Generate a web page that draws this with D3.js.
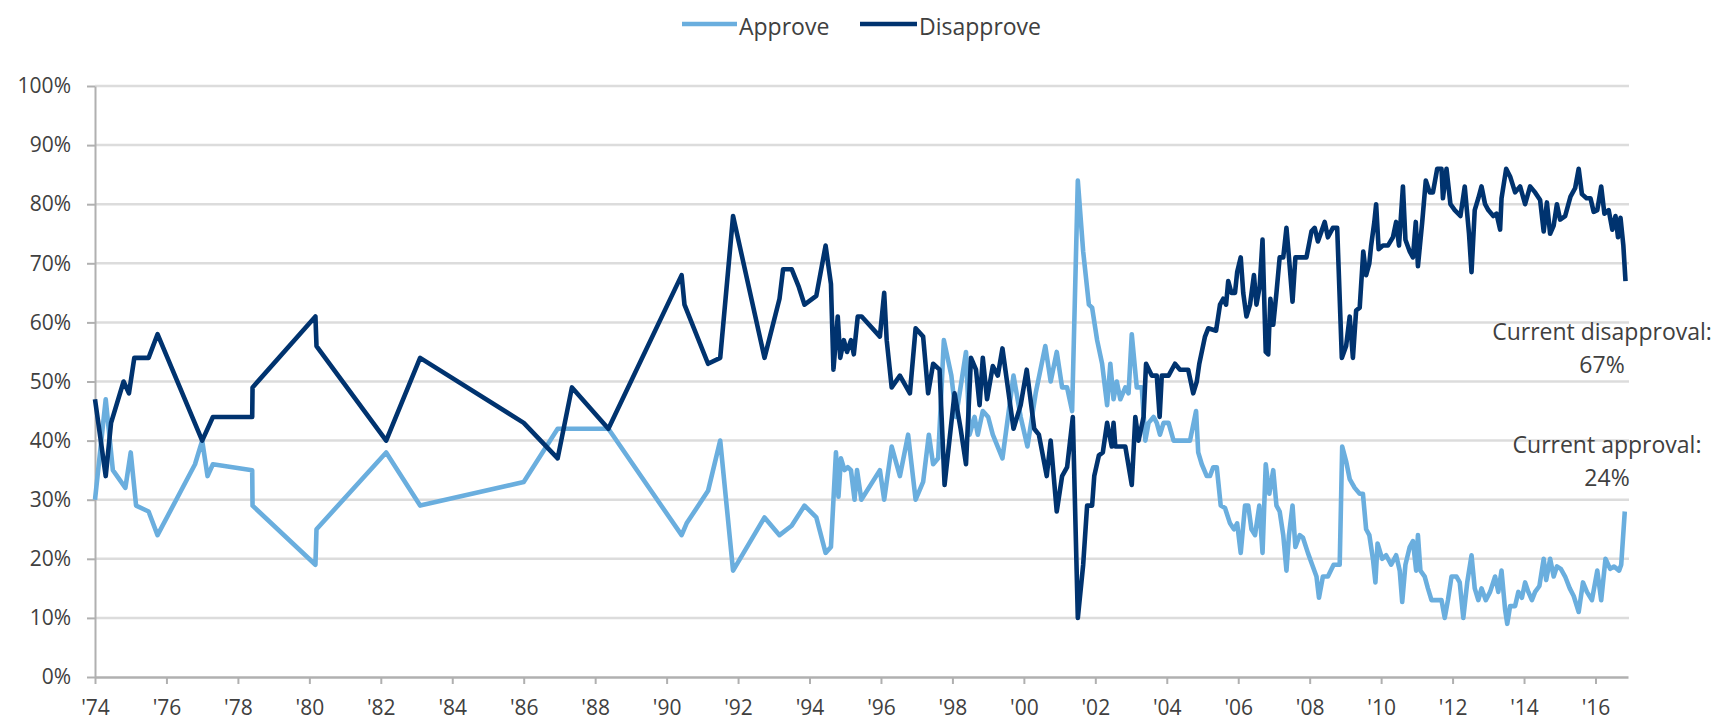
<!DOCTYPE html>
<html>
<head>
<meta charset="utf-8">
<script src="https://cdn.jsdelivr.net/npm/d3@7"></script>
<style>
  html, body { margin: 0; padding: 0; background: #fff; }
  svg text { font-family: "Open Sans", "DejaVu Sans", sans-serif; fill: #404040; }
</style>
</head>
<body>
<svg id="chart" width="1729" height="728"></svg>
<script>
// ---- data (decimal year, percent) ----
const seriesNames = ["Approve", "Disapprove"];
const approveYears = [1974.0,1974.3,1974.5,1974.85,1975.0,1975.15,1975.5,1975.75,1976.8,1977.0,1977.15,1977.3,1978.4,1978.41,1980.17,1980.2,1982.15,1983.1,1986.0,1986.95,1988.37,1990.42,1990.56,1991.16,1991.5,1991.86,1992.74,1993.16,1993.5,1993.86,1994.19,1994.45,1994.6,1994.74,1994.81,1994.88,1994.98,1995.07,1995.16,1995.26,1995.33,1995.45,1995.97,1996.09,1996.3,1996.53,1996.76,1996.97,1997.18,1997.34,1997.46,1997.6,1997.76,1997.97,1998.1,1998.38,1998.48,1998.62,1998.71,1998.85,1999.0,1999.13,1999.4,1999.71,1999.91,2000.1,2000.33,2000.6,2000.75,2000.92,2001.07,2001.21,2001.35,2001.51,2001.66,2001.82,2001.91,2002.05,2002.19,2002.33,2002.42,2002.51,2002.6,2002.7,2002.84,2002.93,2003.02,2003.16,2003.3,2003.4,2003.49,2003.63,2003.72,2003.81,2003.91,2004.05,2004.19,2004.37,2004.51,2004.65,2004.82,2004.88,2004.98,2005.12,2005.21,2005.3,2005.4,2005.51,2005.63,2005.77,2005.88,2005.97,2006.07,2006.19,2006.28,2006.37,2006.47,2006.59,2006.68,2006.77,2006.87,2006.98,2007.07,2007.16,2007.26,2007.35,2007.42,2007.52,2007.6,2007.72,2007.81,2007.95,2008.07,2008.19,2008.26,2008.37,2008.51,2008.67,2008.79,2008.84,2008.91,2009.02,2009.12,2009.26,2009.4,2009.49,2009.58,2009.67,2009.77,2009.84,2009.9,2010.03,2010.14,2010.28,2010.42,2010.52,2010.59,2010.68,2010.8,2010.89,2010.98,2011.03,2011.1,2011.22,2011.31,2011.41,2011.55,2011.69,2011.78,2011.87,2011.97,2012.11,2012.2,2012.3,2012.41,2012.53,2012.62,2012.72,2012.81,2012.93,2013.05,2013.19,2013.28,2013.37,2013.47,2013.53,2013.61,2013.75,2013.84,2013.94,2014.03,2014.12,2014.22,2014.31,2014.43,2014.55,2014.62,2014.73,2014.83,2014.92,2015.03,2015.15,2015.28,2015.39,2015.53,2015.65,2015.76,2015.9,2016.05,2016.16,2016.28,2016.41,2016.52,2016.66,2016.72,2016.82];
const approveValues = [30,47,35,32,38,29,28,24,36,40,34,36,35,29,19,25,38,29,33,42,42,24,26,31.5,40,18,27,24,25.6,29,27,21,22,38,30.5,37,35,35.5,35,30,35,30,35,30,39,34,41,30,33,41,36,37,57,51,44,55,41,44,41,45,44,41,37,51,44,39,48,56,50,55,49,49,45,84,72,63,62.5,57,53,46,53,47,50,47,49,48,58,49,49,40,43,44,43,41,43,43,40,40,40,40,45,38,36,34,34,35.5,35.5,29,28.6,26,25,26,21,29,29,25,24,29,21,36,31,35,29,28,24,18,24,29,22,24,23.6,21,19,17,13.4,17,17,19,19,19,39,36.5,33.5,32,31,31,25,24,20,16,22.6,20,20.6,19,20.6,18,12.7,19,22,23,18,24,18,17,15,13,13,13,10,13,17,17,16,10,16,20.6,15,13,15,13,14.4,17,14.4,18,11.4,9,12,12,14.4,13.4,16,14.4,13,14.4,15.4,20,16.4,20,17,18.7,18.3,17,15,13.7,11,16,14.4,13,18,13,20,18.3,18.7,18,19,28];

const disapproveYears = [1974.0,1974.3,1974.45,1974.8,1974.95,1975.1,1975.5,1975.75,1977.0,1977.3,1978.4,1978.41,1980.17,1980.2,1982.15,1983.1,1986.0,1986.95,1987.35,1988.37,1990.42,1990.5,1991.16,1991.5,1991.86,1992.74,1993.16,1993.26,1993.5,1993.7,1993.86,1994.19,1994.45,1994.6,1994.67,1994.79,1994.86,1994.96,1995.05,1995.16,1995.24,1995.35,1995.46,1995.97,1996.09,1996.16,1996.3,1996.53,1996.81,1996.97,1997.18,1997.32,1997.46,1997.64,1997.78,1998.06,1998.23,1998.38,1998.52,1998.66,1998.76,1998.85,1998.97,1999.13,1999.27,1999.4,1999.71,1999.91,2000.08,2000.29,2000.42,2000.64,2000.75,2000.92,2001.07,2001.21,2001.37,2001.51,2001.66,2001.77,2001.91,2001.97,2002.1,2002.21,2002.33,2002.46,2002.51,2002.56,2002.84,2003.02,2003.12,2003.21,2003.35,2003.42,2003.58,2003.72,2003.8,2003.86,2004.05,2004.23,2004.37,2004.6,2004.74,2004.84,2004.91,2005.07,2005.16,2005.38,2005.49,2005.58,2005.66,2005.72,2005.81,2005.91,2005.97,2006.07,2006.14,2006.23,2006.33,2006.44,2006.51,2006.6,2006.68,2006.77,2006.84,2006.9,2006.98,2007.07,2007.16,2007.26,2007.35,2007.42,2007.52,2007.6,2007.77,2007.91,2008.05,2008.14,2008.23,2008.33,2008.42,2008.51,2008.65,2008.77,2008.9,2009.02,2009.12,2009.21,2009.3,2009.4,2009.5,2009.58,2009.67,2009.72,2009.81,2009.86,2009.93,2010.05,2010.19,2010.33,2010.42,2010.5,2010.61,2010.68,2010.8,2010.89,2010.97,2011.03,2011.15,2011.25,2011.36,2011.45,2011.57,2011.69,2011.73,2011.83,2011.94,2012.06,2012.22,2012.34,2012.46,2012.53,2012.62,2012.72,2012.81,2012.91,2013.0,2013.14,2013.23,2013.33,2013.37,2013.5,2013.61,2013.75,2013.89,2014.03,2014.17,2014.31,2014.45,2014.55,2014.64,2014.73,2014.83,2014.92,2015.01,2015.15,2015.3,2015.43,2015.53,2015.62,2015.75,2015.86,2015.95,2016.05,2016.16,2016.25,2016.37,2016.47,2016.56,2016.63,2016.7,2016.78,2016.84];
const disapproveValues = [47,34,43,50,48,54,54,58,40,44,44,49,61,56,40,54,43,37,49,42,68,63,53,54,78,54,64,69,69,66,63,64.5,73,66.5,52,61,54,57,55,57,54.6,61,61,57.6,65,57,49,51,48,59,57.6,48,53,52,32.5,48,42,36,54,52,46,54,47,52.6,51,55.6,42,46,52,42,41,34,40,28,34,35.5,44,10,19,29,29,34,37.5,38,43,39,43,39,39,32.5,44,40,44,53,51,51,44,51,51,53,52,52,48,50,53,57.6,59,58.6,63,64,63,67,65,65,68.5,71,65,61,63,68,63,66,74,55,54.6,64,59.6,65,71,71,76,71,63.5,71,71,71,75.4,76,73.7,75.4,77,74.4,76,76,54,56,61,54,62,62.5,72,68,70,73,77,80,72.4,73,73,74.4,77,73,83,74,72,71,77,69.5,77,84,82,82,86,86,81,86,80,79,78,83,75,68.5,79,81,83,80,79,78,78.4,75.7,81,86,84.7,82,83,80,83,82,80.7,75.4,80.3,75,76.4,80,77.4,78,81.3,82.7,86,81.7,81,81,78.7,79,83,78.4,79,75.7,78,74.4,77.7,73,67];

const yTicks = [0,10,20,30,40,50,60,70,80,90,100];
const xTickYears = d3.range(1974, 2017, 2);
const annotationLines = [["Current disapproval:", "67%"], ["Current approval:", "24%"]];

// ---- layout ----
const colors = { Approve: "#6aaede", Disapprove: "#00336f" };
const svg = d3.select("#chart");
const plotL = 95, plotR = 1628, plotT = 86, plotB = 677;

const x = d3.scaleLinear().domain([1974, 2016.91]).range([plotL, plotR]);
const y = d3.scaleLinear().domain([0, 100]).range([plotB, plotT]);

// gridlines
svg.append("g")
  .selectAll("line")
  .data(yTicks.filter(d => d > 0))
  .join("line")
  .attr("x1", plotL).attr("x2", plotR + 1)
  .attr("y1", d => y(d)).attr("y2", d => y(d))
  .attr("stroke", "#dcdcdc").attr("stroke-width", 2.5);

// y axis
const yAxis = svg.append("g")
  .attr("transform", `translate(${plotL},0)`)
  .call(d3.axisLeft(y).tickValues(yTicks).tickFormat(d => d + "%").tickSize(8).tickSizeOuter(0).tickPadding(16));
yAxis.select(".domain").attr("stroke", "#b0b0b0").attr("stroke-width", 2);
yAxis.selectAll(".tick line").attr("stroke", "#b0b0b0").attr("stroke-width", 2);
yAxis.selectAll(".tick text").style("font-size", "21px").style("font-family", "'Open Sans', sans-serif").attr("fill", "#4a4a4a");

// x axis
const xAxis = svg.append("g")
  .attr("transform", `translate(0,${plotB})`)
  .call(d3.axisBottom(x).tickValues(xTickYears).tickFormat(d => "'" + String(d).slice(2)).tickSize(7).tickSizeOuter(0).tickPadding(16));
xAxis.select(".domain").attr("stroke", "#b0b0b0").attr("stroke-width", 2.5);
xAxis.selectAll(".tick line").attr("stroke", "#b0b0b0").attr("stroke-width", 2);
xAxis.selectAll(".tick text").style("font-size", "21px").style("font-family", "'Open Sans', sans-serif").attr("fill", "#4a4a4a");

// lines
const line = d3.line().x(d => x(d[0])).y(d => y(d[1])).curve(d3.curveLinear);
const approveData = d3.zip(approveYears, approveValues);
const disapproveData = d3.zip(disapproveYears, disapproveValues);

svg.append("path").datum(approveData)
  .attr("d", line).attr("fill", "none")
  .attr("stroke", colors.Approve).attr("stroke-width", 4.6).attr("stroke-linejoin", "round");
svg.append("path").datum(disapproveData)
  .attr("d", line).attr("fill", "none")
  .attr("stroke", colors.Disapprove).attr("stroke-width", 4.6).attr("stroke-linejoin", "round");

// legend
const legendItems = [
  { name: seriesNames[0], x1: 682, x2: 737, tx: 739 },
  { name: seriesNames[1], x1: 860, x2: 917, tx: 919 }
];
const lg = svg.append("g");
legendItems.forEach(it => {
  lg.append("line").attr("x1", it.x1).attr("x2", it.x2).attr("y1", 24).attr("y2", 24)
    .attr("stroke", colors[it.name]).attr("stroke-width", 4.6);
  lg.append("text").attr("x", it.tx).attr("y", 35).text(it.name)
    .style("font-size", "23px");
});

// annotations
const annPos = [ { cx: 1602, y0: 340 }, { cx: 1607, y0: 453 } ];
annotationLines.forEach((lines, i) => {
  lines.forEach((t, j) => {
    svg.append("text").attr("x", annPos[i].cx).attr("y", annPos[i].y0 + j * 33)
      .attr("text-anchor", "middle").style("font-size", "23px").text(t);
  });
});
</script>
</body>
</html>
